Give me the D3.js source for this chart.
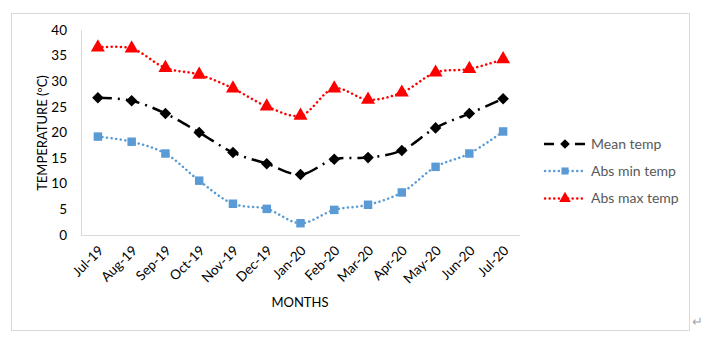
<!DOCTYPE html>
<html><head><meta charset="utf-8">
<script src="https://cdn.jsdelivr.net/npm/d3@7"></script>
<style>body{margin:0;background:#fff;} svg{display:block;font-family:Lato,"Open Sans",sans-serif;}</style>
</head><body><svg id="c" width="707" height="342"></svg>
<script>
const months = ["Jul-19","Aug-19","Sep-19","Oct-19","Nov-19","Dec-19","Jan-20","Feb-20","Mar-20","Apr-20","May-20","Jun-20","Jul-20"];
const meanTemp = [26.8,26.2,23.7,20.0,16.1,13.9,11.8,14.8,15.1,16.5,20.9,23.7,26.6];
const minTemp = [19.2,18.2,15.9,10.6,6.1,5.1,2.3,4.9,5.9,8.3,13.3,15.9,20.2];
const maxTemp = [36.6,36.4,32.6,31.3,28.6,25.1,23.3,28.6,26.4,27.8,31.7,32.4,34.3];
const yTicks = [0,5,10,15,20,25,30,35,40];
const seriesNames = ["Mean temp","Abs min temp","Abs max temp"];

const svg = d3.select("#c");
svg.append("rect").attr("x",11.5).attr("y",13.5).attr("width",678).attr("height",317)
  .attr("fill","#fff").attr("stroke","#d9d9d9");

const x = d3.scalePoint().domain(months).range([81,520]).padding(0.5);
const y = d3.scaleLinear().domain([0,40]).range([235,30]);

svg.append("line").attr("x1",81.5).attr("x2",81.5).attr("y1",y(40)).attr("y2",y(0)).attr("stroke","#d9d9d9");
svg.append("line").attr("x1",81).attr("x2",520).attr("y1",y(0)+0.5).attr("y2",y(0)+0.5).attr("stroke","#d9d9d9");

svg.append("g").selectAll("text").data(yTicks).join("text")
  .attr("x",67).attr("y",d=>y(d)).attr("dy","0.35em").attr("text-anchor","end")
  .attr("font-size",13.5).attr("fill","#000").text(d=>d);

svg.append("g").selectAll("text").data(months).join("text")
  .attr("transform",d=>`translate(${x(d)+3},${248}) rotate(-45)`)
  .attr("text-anchor","end").attr("dy","0.35em")
  .attr("font-size",13.5).attr("fill","#000").text(d=>d);

svg.append("text").attr("x",300).attr("y",302).attr("dy","0.35em").attr("text-anchor","middle")
  .attr("font-size",13).attr("fill","#000").text("MONTHS");
svg.append("text").attr("transform","translate(42,133) rotate(-90)").attr("dy","0.35em").attr("text-anchor","middle")
  .attr("font-size",13).attr("fill","#000").text("TEMPERATURE (ºC)");

const line = d3.line().x((d,i)=>x(months[i])).y(d=>y(d)).curve(d3.curveCatmullRom.alpha(0.5));

const styles = [
  {data:meanTemp, color:"#000", dash:"14,6,2,6", cap:"butt", sym:d3.symbolDiamond2, size:85},
  {data:minTemp, color:"#5B9BD5", dash:"0.1,4.5", cap:"round", sym:d3.symbolSquare, size:72},
  {data:maxTemp, color:"#FF0000", dash:"0.1,4.5", cap:"round", sym:d3.symbolTriangle, size:85}
];

styles.forEach(s=>{
  svg.append("path").datum(s.data).attr("d",line).attr("fill","none")
    .attr("stroke",s.color).attr("stroke-width",2.5).attr("stroke-dasharray",s.dash).attr("stroke-linecap",s.cap);
  svg.append("g").selectAll("path").data(s.data).join("path")
    .attr("transform",(d,i)=>`translate(${x(months[i])},${y(d)})`)
    .attr("d",d3.symbol().type(s.sym).size(s.size)).attr("fill",s.color);
});

const ly = [144,171,198.5];
styles.forEach((s,i)=>{
  const g = svg.append("g").attr("transform",`translate(544,${ly[i]})`);
  if(i===0){
    g.append("line").attr("x1",0).attr("x2",10).attr("stroke","#000").attr("stroke-width",2.5);
    g.append("line").attr("x1",31).attr("x2",41).attr("stroke","#000").attr("stroke-width",2.5);
  } else {
    g.append("line").attr("x1",1).attr("x2",41).attr("stroke",s.color).attr("stroke-width",2.5)
      .attr("stroke-dasharray",s.dash).attr("stroke-linecap","round");
  }
  g.append("path").attr("transform","translate(21,0)").attr("d",d3.symbol().type(s.sym).size(s.size*0.7)).attr("fill",s.color);
  g.append("text").attr("x",47).attr("dy","0.35em").attr("font-size",14).attr("fill","#595959").text(seriesNames[i]);
});

svg.append("text").attr("x",697).attr("y",326).attr("text-anchor","middle").attr("font-size",13).attr("fill","#a6a6a6").text("↵");
</script></body></html>
